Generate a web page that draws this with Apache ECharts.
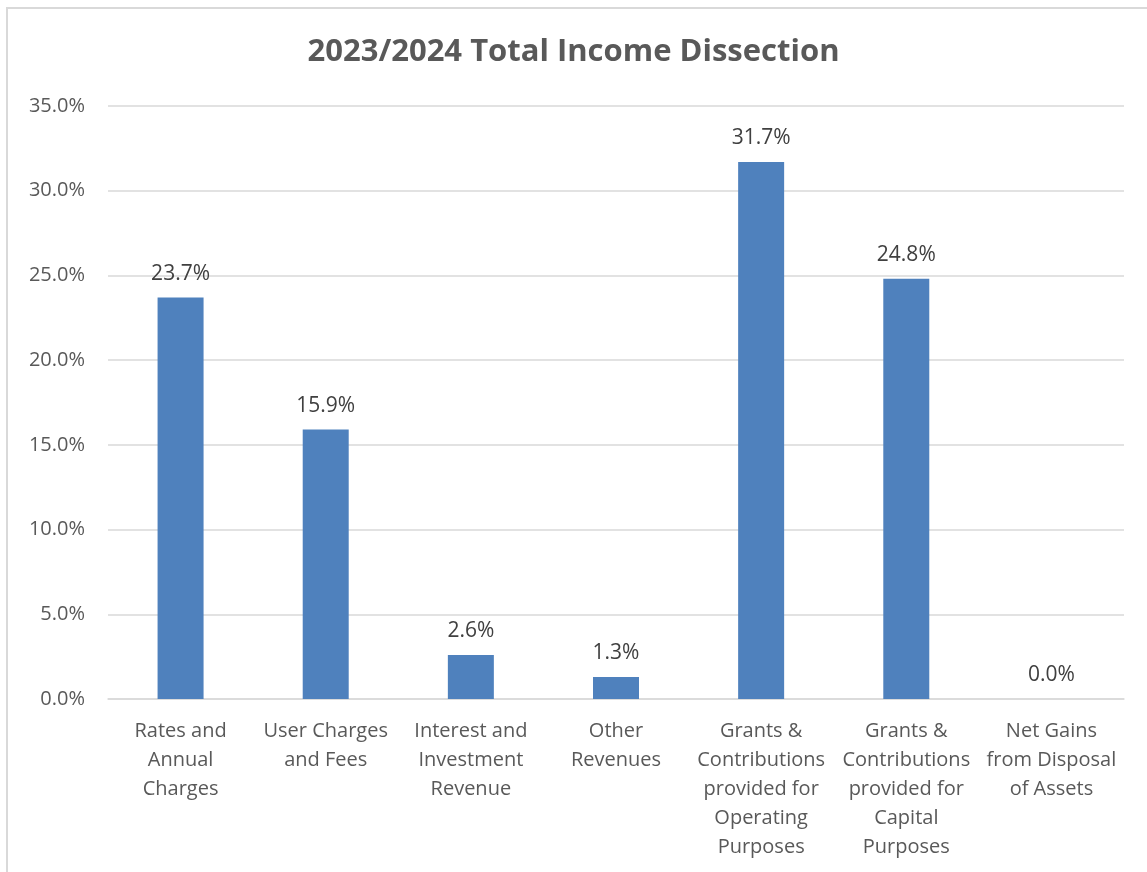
<!DOCTYPE html>
<html>
<head>
<meta charset="utf-8">
<script src="https://cdn.jsdelivr.net/npm/echarts@6/dist/echarts.min.js"></script>
<style>
html,body{margin:0;padding:0;background:#fff;}
#chart{width:1147px;height:872px;}
</style>
</head>
<body>
<div id="chart"></div>
<script>
const categories = [
  "Rates and\nAnnual\nCharges",
  "User Charges\nand Fees",
  "Interest and\nInvestment\nRevenue",
  "Other\nRevenues",
  "Grants &\nContributions\nprovided for\nOperating\nPurposes",
  "Grants &\nContributions\nprovided for\nCapital\nPurposes",
  "Net Gains\nfrom Disposal\nof Assets"
];
const values = [23.7, 15.9, 2.6, 1.3, 31.7, 24.8, 0.0];
const yTicks = { min: 0, max: 35, interval: 5 };
const titleText = "2023/2024 Total Income Dissection";

const FONT = "'Open Sans', 'Noto Sans', sans-serif";
const chart = echarts.init(document.getElementById('chart'));
chart.setOption({
  animation: false,
  backgroundColor: '#fff',
  textStyle: { fontFamily: FONT },
  graphic: [{
    type: 'rect',
    shape: { x: 7, y: 8, width: 1160, height: 880 },
    style: { fill: 'none', stroke: '#d9d9d9', lineWidth: 2 },
    silent: true
  }],
  title: {
    text: titleText,
    left: 'center',
    top: 32,
    textStyle: { fontFamily: FONT, fontSize: 31, fontWeight: 'bold', color: '#595959' }
  },
  grid: { left: 108, right: 23, top: 106, bottom: 173 },
  xAxis: {
    type: 'category',
    data: categories,
    axisLine: { show: true, lineStyle: { color: '#d9d9d9', width: 1.5 } },
    axisTick: { show: false },
    axisLabel: {
      interval: 0,
      color: '#595959',
      fontSize: 20,
      lineHeight: 29,
      margin: 18,
      fontFamily: FONT
    }
  },
  yAxis: {
    type: 'value',
    min: yTicks.min,
    max: yTicks.max,
    interval: yTicks.interval,
    axisLine: { show: false },
    axisTick: { show: false },
    splitLine: { lineStyle: { color: '#d9d9d9', width: 1.5 } },
    axisLabel: {
      color: '#595959',
      fontSize: 20,
      margin: 23,
      fontFamily: FONT,
      formatter: v => v.toFixed(1) + '%'
    }
  },
  series: [{
    type: 'bar',
    data: values,
    barWidth: 46,
    itemStyle: { color: '#4f81bd' },
    label: {
      show: true,
      position: 'top',
      distance: 13,
      color: '#404040',
      fontSize: 21,
      fontFamily: FONT,
      formatter: p => p.value.toFixed(1) + '%'
    }
  }]
});
</script>
</body>
</html>
